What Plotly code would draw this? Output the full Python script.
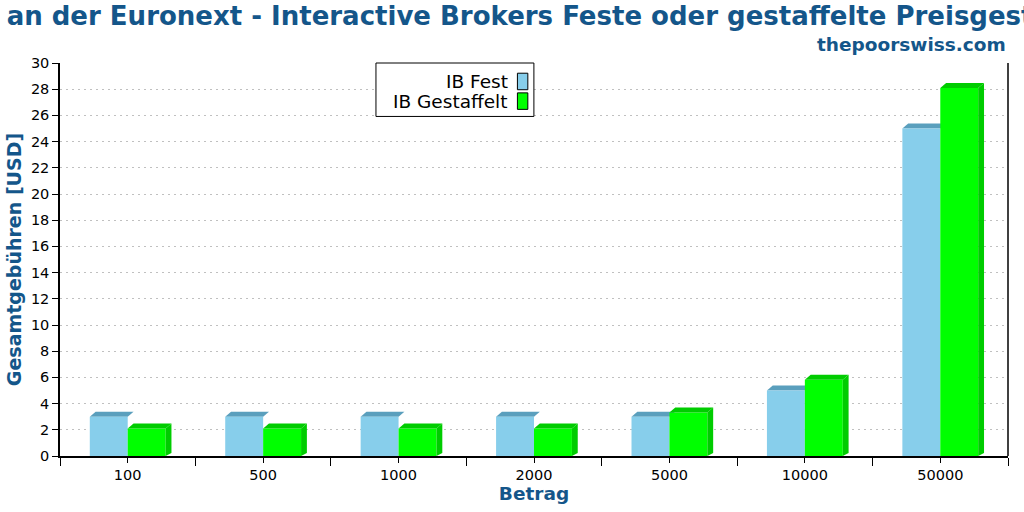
import plotly.graph_objects as go

categories = ["100", "500", "1000", "2000", "5000", "10000", "50000"]
fest = [3.0, 3.0, 3.0, 3.0, 3.0, 5.0, 25.0]
gestaffelt = [2.1, 2.1, 2.1, 2.1, 3.33, 5.82, 28.1]
series_names = ["IB Fest", "IB Gestaffelt"]
y_ticks = list(range(0, 31, 2))

TITLE_COLOR = "#14568a"
FEST_FRONT, FEST_DARK = "#87ceeb", "#5a9fbd"
GREEN_FRONT, GREEN_DARK = "#00ff00", "#00cc00"
FONT = "DejaVu Sans"

W = 0.28      # bar width (category units)
DX = 0.043    # depth in x (category units)
DY = 0.38     # depth in y (data units)

xs = list(range(len(categories)))

fig = go.Figure()
fig.add_trace(go.Bar(x=xs, y=fest, name=series_names[0], width=W, offset=-W,
                     marker=dict(color=FEST_FRONT, line=dict(width=0)), showlegend=False))
fig.add_trace(go.Bar(x=xs, y=gestaffelt, name=series_names[1], width=W, offset=0,
                     marker=dict(color=GREEN_FRONT, line=dict(width=0)), showlegend=False))

shapes = []
# 3D faces derived from the data
for i, f in enumerate(fest):
    x0, x1 = i - W, i
    shapes.append(dict(type="path", layer="between", xref="x", yref="y",
                       path=f"M{x0},{f} L{x0+DX},{f+DY} L{x1+DX},{f+DY} L{x1},{f} Z",
                       fillcolor=FEST_DARK, line=dict(width=0)))
for i, g in enumerate(gestaffelt):
    x0, x1 = i, i + W
    shapes.append(dict(type="path", layer="above", xref="x", yref="y",
                       path=f"M{x0},{g} L{x0+DX},{g+DY} L{x1+DX},{g+DY} L{x1},{g} Z",
                       fillcolor=GREEN_DARK, line=dict(width=0)))
    shapes.append(dict(type="path", layer="above", xref="x", yref="y",
                       path=f"M{x1},{g} L{x1+DX},{g+DY} L{x1+DX},{DY*0.6} L{x1},0 Z",
                       fillcolor=GREEN_DARK, line=dict(width=0)))

# right border line
shapes.append(dict(type="line", xref="paper", yref="paper", x0=1, x1=1, y0=0, y1=1,
                   line=dict(color="black", width=1.5)))

# custom legend (text left of swatch)
lx0, lx1, ly0, ly1 = 0.3333, 0.4999, 0.864, 1.0
shapes.append(dict(type="rect", xref="paper", yref="paper", x0=lx0, x1=lx1, y0=ly0, y1=ly1,
                   fillcolor="white", line=dict(color="black", width=1), layer="above"))
annotations = []
legend_rows = [(series_names[0], FEST_FRONT, 0.953), (series_names[1], GREEN_FRONT, 0.903)]
for name, col, yc in legend_rows:
    shapes.append(dict(type="rect", xref="paper", yref="paper",
                       x0=0.4825, x1=0.4935, y0=yc - 0.021, y1=yc + 0.021,
                       fillcolor=col, line=dict(color="black", width=1), layer="above"))
    annotations.append(dict(text=name, xref="paper", yref="paper", x=0.4745, y=yc,
                            xanchor="right", yanchor="middle", showarrow=False,
                            font=dict(family=FONT, size=18.5, color="black")))

annotations.append(dict(text="<b>thepoorswiss.com</b>", xref="paper", yref="paper",
                        x=1.0, y=1.014, xanchor="right", yanchor="bottom", showarrow=False,
                        font=dict(family=FONT, size=18.5, color=TITLE_COLOR)))

fig.update_layout(
    width=1024, height=512,
    margin=dict(l=60, r=16, t=63, b=52),
    paper_bgcolor="white", plot_bgcolor="white",
    barmode="overlay",
    font=dict(family=FONT, size=14.5, color="black"),
    title=dict(text="<b>Kosten an der Euronext - Interactive Brokers Feste oder gestaffelte Preisgestaltung</b>",
               x=0.5, xanchor="center", y=0.969, yanchor="middle",
               font=dict(family=FONT, size=26, color=TITLE_COLOR)),
    xaxis=dict(range=[-0.5, len(categories) - 0.5], tickvals=xs, ticktext=categories,
               showline=True, linecolor="black", linewidth=1.5,
               ticks="outside", ticklen=5, tickcolor="black",
               minor=dict(tick0=0.5, dtick=1, ticks="outside", ticklen=8, tickcolor="black"),
               showgrid=False, zeroline=False,
               title=dict(text="<b>Betrag</b>", standoff=4,
                          font=dict(family=FONT, size=18.5, color=TITLE_COLOR)),
               tickfont=dict(size=14.5)),
    yaxis=dict(range=[0, 30], tickvals=y_ticks, showline=True, linecolor="black", linewidth=1.5,
               ticks="outside", ticklen=6, tickcolor="black",
               showgrid=True, gridcolor="#c0c0c0", griddash="2px,4px", gridwidth=1,
               zeroline=False,
               title=dict(text="<b>Gesamtgebühren [USD]</b>", standoff=4,
                          font=dict(family=FONT, size=19, color=TITLE_COLOR)),
               tickfont=dict(size=14.5)),
    shapes=shapes,
    annotations=annotations,
)

post = (
    "document.documentElement.style.margin='0';"
    "document.documentElement.style.overflow='hidden';"
    "document.body.style.margin='0';"
    "document.body.style.overflow='hidden';"
    "var d=document.getElementById('{plot_id}');"
    "d.style.position='fixed';d.style.left='0px';d.style.top='0px';"
)
fig.write_html("out.html", post_script=post, config={"displayModeBar": False})
